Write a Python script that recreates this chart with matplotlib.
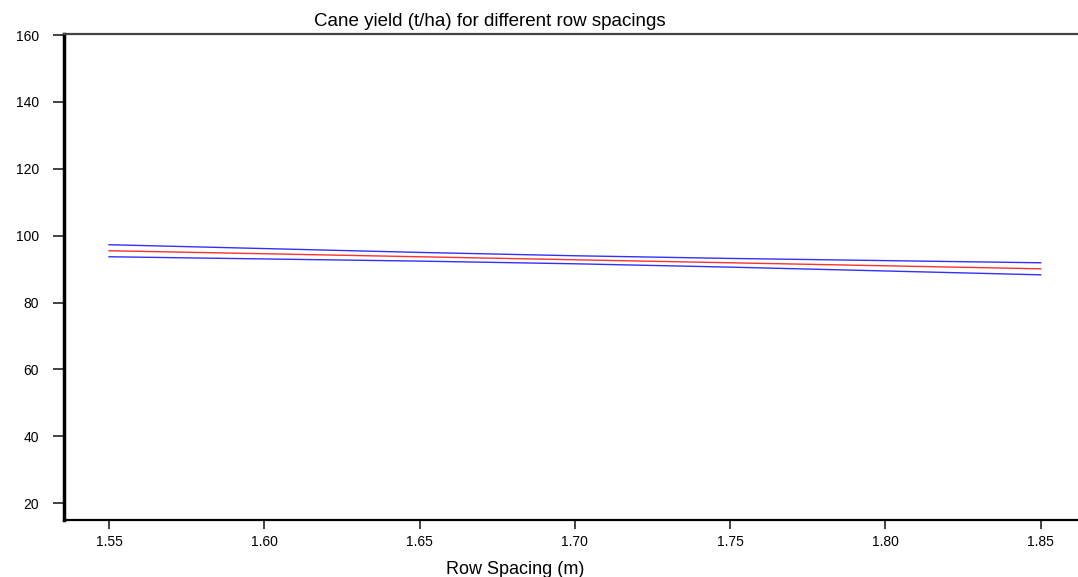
import matplotlib
matplotlib.use("Agg")
from matplotlib import pyplot as plt

# row spacing (m)
spacing = [1.55, 1.60, 1.65, 1.70, 1.75, 1.80, 1.85]
# fitted cane yield (t/ha) and band
yield_fit = [95.5, 94.6, 93.7, 92.8, 91.9, 91.0, 90.1]
yield_upper = [97.3, 96.15, 95.0, 94.0, 93.2, 92.55, 91.9]
yield_lower = [93.7, 93.05, 92.4, 91.6, 90.6, 89.45, 88.3]

xticks = [1.55, 1.60, 1.65, 1.70, 1.75, 1.80, 1.85]
yticks = [20, 40, 60, 80, 100, 120, 140, 160]

plt.rcParams['font.family'] = ['Liberation Sans', 'DejaVu Sans']

fig = plt.figure(figsize=(10.78, 5.77), dpi=100)
ax = fig.add_axes([64 / 1078, 1 - 520 / 577, 1014 / 1078, (520 - 34) / 577])

ax.plot(spacing, yield_upper, color='#3030ff', lw=1.0)
ax.plot(spacing, yield_fit, color='#ff3030', lw=1.0)
ax.plot(spacing, yield_lower, color='#3030ff', lw=1.0)

ax.set_xlim(1.5355, 1.862)
ax.set_ylim(15, 160.3)
ax.set_xticks(xticks)
ax.set_xticklabels(["%.2f" % v for v in xticks])
ax.set_yticks(yticks)
ax.tick_params(axis='both', labelsize=10, width=1.2, color='#222222')
ax.tick_params(axis='x', length=6.5, pad=4)
ax.tick_params(axis='y', length=8, pad=10)

ax.spines['right'].set_visible(False)
ax.spines['left'].set_linewidth(2.5)
ax.spines['bottom'].set_linewidth(1.6)
ax.spines['top'].set_linewidth(1.6)
ax.spines['top'].set_color('#444444')

fig.text(490 / 1078, 1 - 21 / 577, "Cane yield (t/ha) for different row spacings",
         ha='center', va='center', fontsize=13.5)
fig.text(515 / 1078, 1 - 569 / 577, "Row Spacing (m)",
         ha='center', va='center', fontsize=13)

fig.savefig("out.png", dpi=100)
